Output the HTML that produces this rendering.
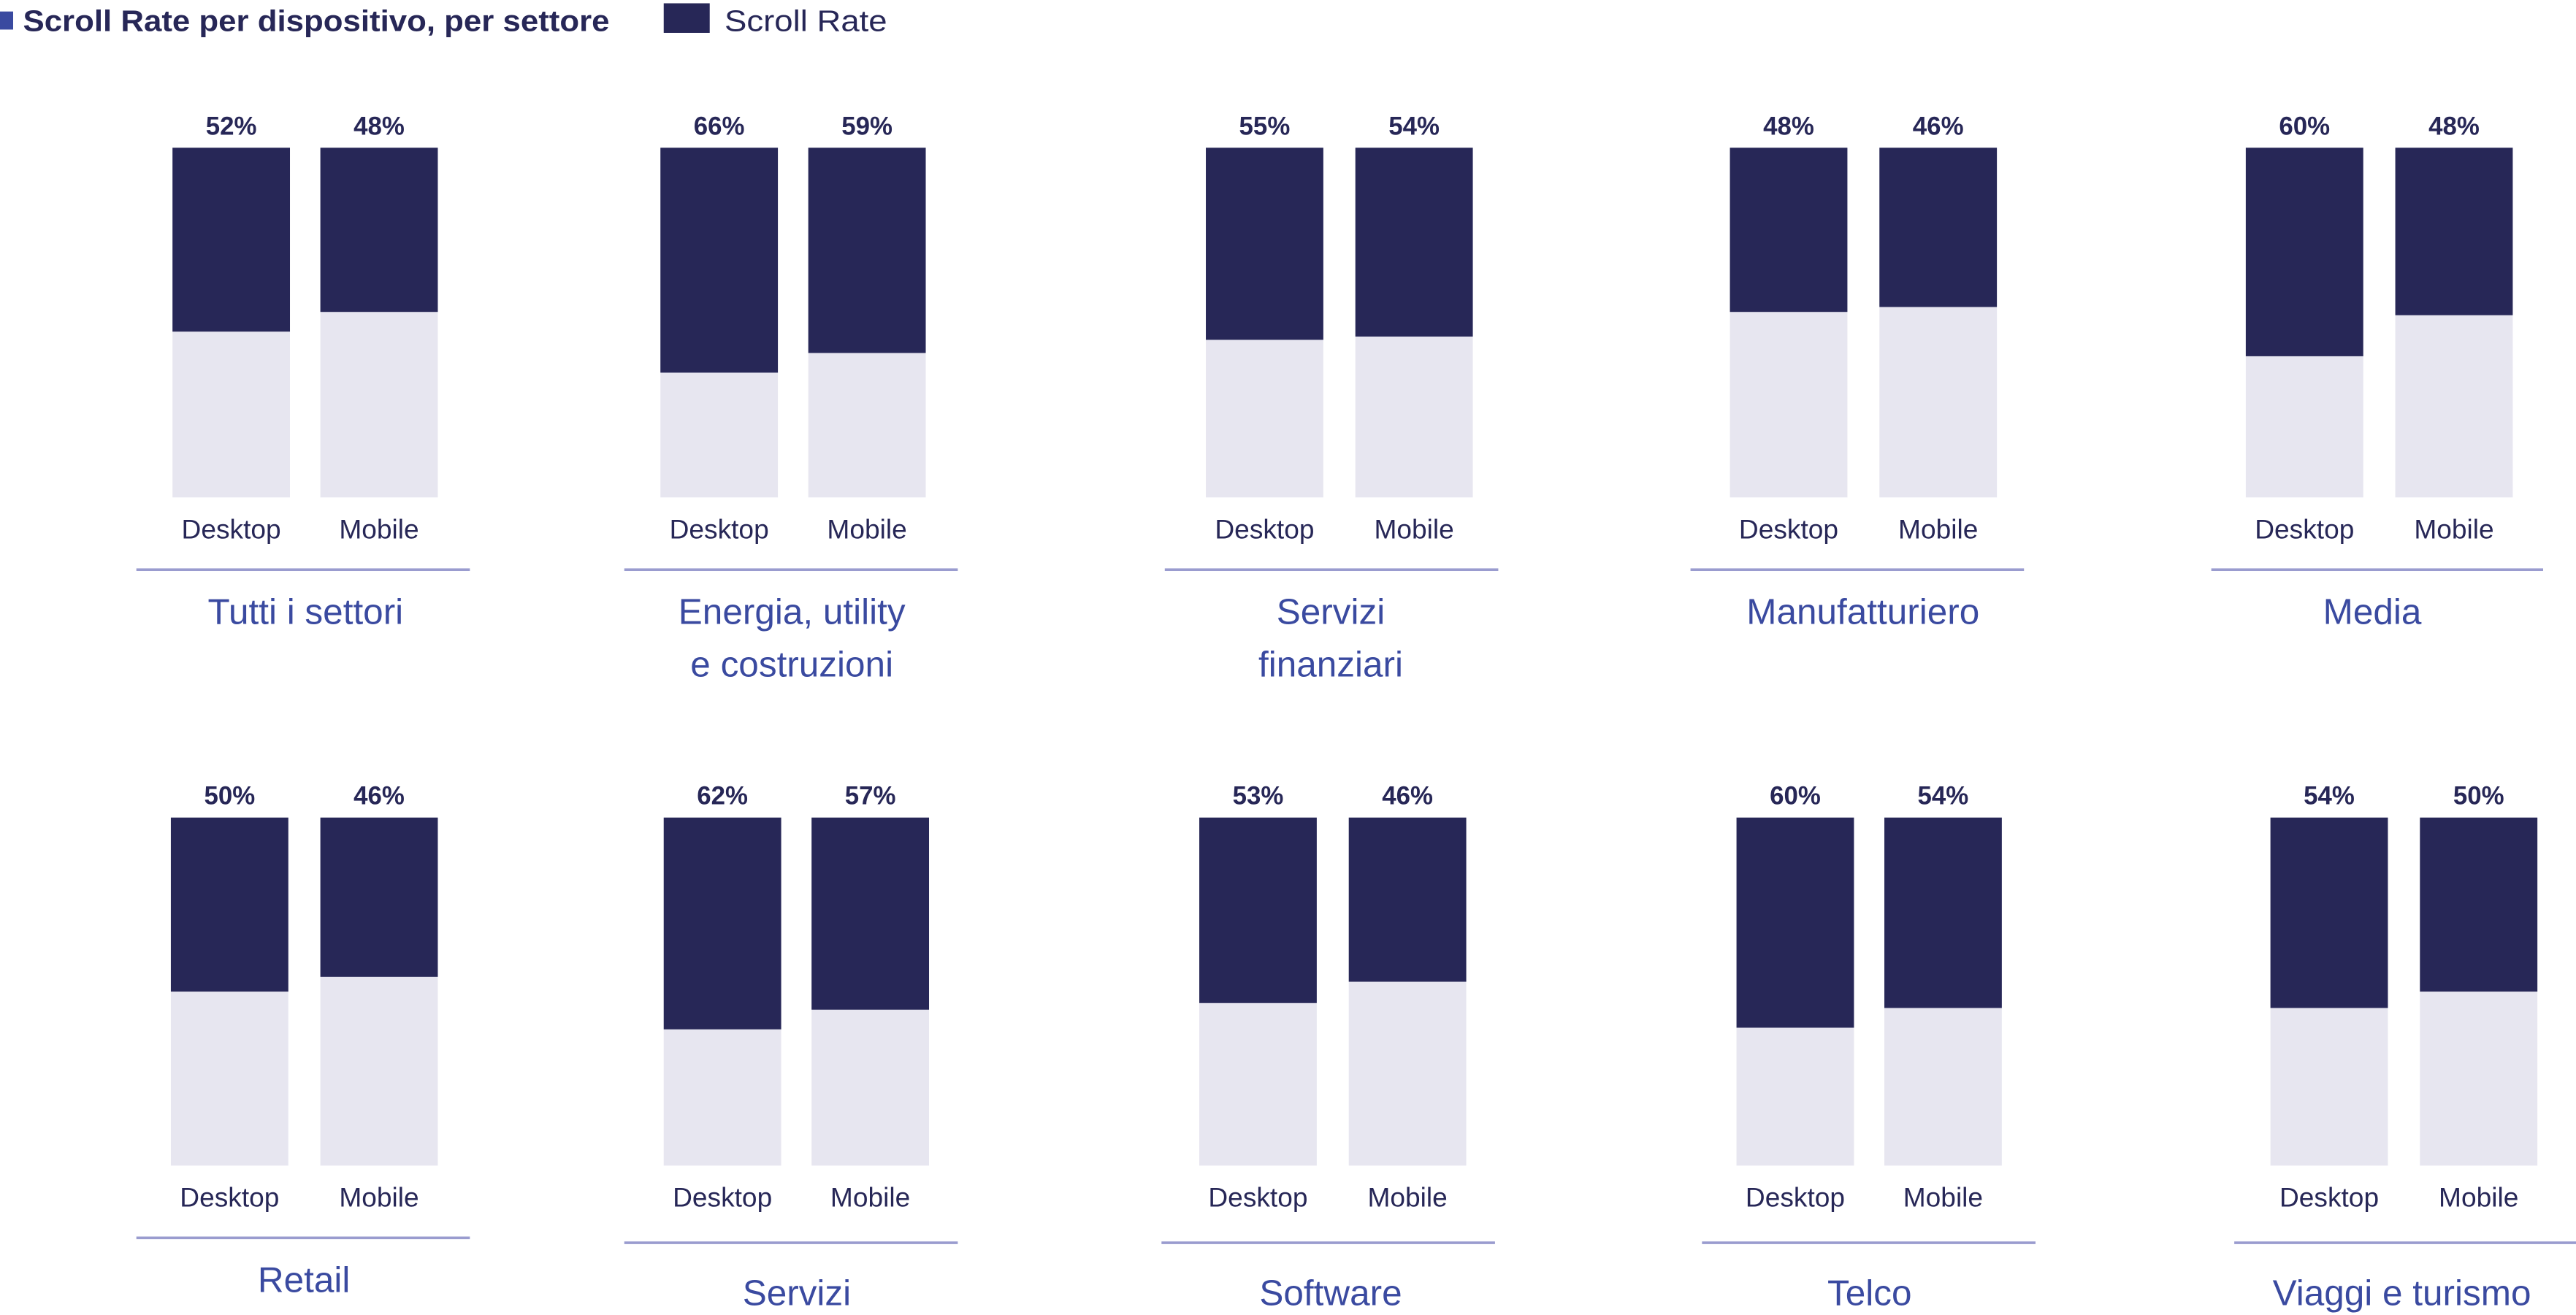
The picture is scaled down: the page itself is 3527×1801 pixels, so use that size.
<!DOCTYPE html>
<html><head><meta charset="utf-8"><style>
html,body{margin:0;padding:0;background:#fff;}
svg{display:block;}
text{font-family:"Liberation Sans",sans-serif;}
.p{font-weight:bold;font-size:15.5px;fill:#272757;text-anchor:middle;}
.d{font-size:16.5px;fill:#272757;text-anchor:middle;}
.t{font-size:22px;fill:#3a4aa0;text-anchor:middle;}
</style></head><body>
<svg width="3527" height="1801" viewBox="0 0 1568 801" preserveAspectRatio="none" xmlns="http://www.w3.org/2000/svg">
<rect x="0" y="7" width="8" height="11" fill="#3a4aa0"/>
<text x="14" y="19" font-size="18" font-weight="bold" fill="#272757" textLength="357" lengthAdjust="spacingAndGlyphs">Scroll Rate per dispositivo, per settore</text>
<rect x="404" y="2" width="28" height="18" fill="#272757"/>
<text x="441" y="19" font-size="18" fill="#272757" textLength="99" lengthAdjust="spacingAndGlyphs">Scroll Rate</text>
<g id="g"></g>
</svg>
<script>
var rows=[
 {top:90,bot:303,py:82,ly:328,liy:347,ty:380,g:[
  [105,195,83,286,186,52,48,["Tutti i settori"],202,190],
  [402,492,380,583,482,66,59,["Energia, utility","e costruzioni"],227,215],
  [734,825,709,912,810,55,54,["Servizi","finanziari"],207,205],
  [1053,1144,1029,1232,1134,48,46,["Manufatturiero"],190,187],
  [1367,1458,1346,1548,1444,60,48,["Media"],217,192]]},
 {top:498,bot:710,py:490,ly:735,liy:757,ty:795,g:[
  [104,195,83,286,185,50,46,["Retail"],604,595,-8,-3],
  [404,494,380,583,485,62,57,["Servizi"],627,615],
  [730,821,707,910,810,53,46,["Software"],611,598],
  [1057,1147,1036,1239,1138,60,54,["Telco"],626,614],
  [1382,1473,1360,1568,1462,54,50,["Viaggi e turismo"],614,604]]}
];
var s='',W=71.5;
rows.forEach(function(r){
 var h=r.bot-r.top;
 r.g.forEach(function(g){
  var ty=r.ty+(g[10]||0),liy=r.liy+(g[11]||0);
  [[g[0],g[5],'Desktop',g[8]],[g[1],g[6],'Mobile',g[9]]].forEach(function(b){
   var dh=b[3]-r.top;
   s+='<rect x="'+b[0]+'" y="'+r.top+'" width="'+W+'" height="'+h+'" fill="#e7e6f0"/>';
   s+='<rect x="'+b[0]+'" y="'+r.top+'" width="'+W+'" height="'+dh+'" fill="#272757"/>';
   s+='<text class="p" x="'+(b[0]+W/2)+'" y="'+r.py+'">'+b[1]+'%</text>';
   s+='<text class="d" x="'+(b[0]+W/2)+'" y="'+r.ly+'">'+b[2]+'</text>';
  });
  s+='<rect x="'+g[2]+'" y="'+(liy-0.8)+'" width="'+(g[3]-g[2])+'" height="1.6" fill="#9a9ccf"/>';
  g[7].forEach(function(t,i){s+='<text class="t" x="'+g[4]+'" y="'+(ty+i*32)+'">'+t+'</text>';});
 });
});
document.getElementById('g').innerHTML=s;
</script>
</body></html>
